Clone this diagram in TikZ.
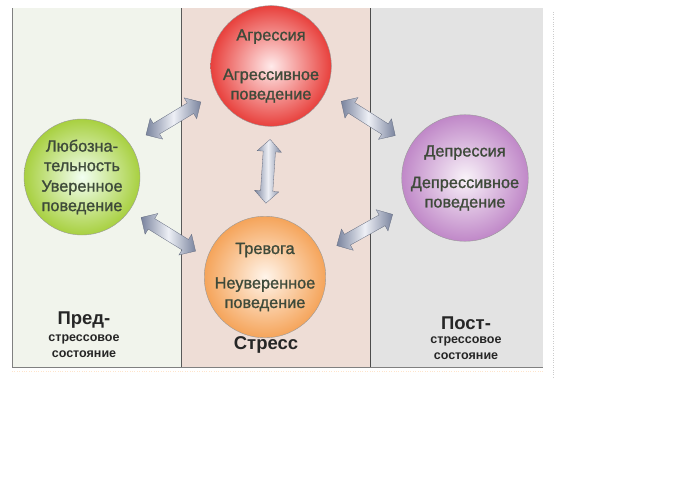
\documentclass[tikz,border=0pt]{standalone}
\usepackage{fontspec}
\setmainfont{Liberation Sans}
\newfontfamily\sharfont[FakeBold=1.3]{Liberation Sans}
\usetikzlibrary{shapes.arrows}
\definecolor{fonlev}{HTML}{F1F4EC}
\definecolor{fonsr}{HTML}{EEDDD6}
\definecolor{fonpr}{HTML}{E3E3E3}
\definecolor{tekst}{HTML}{3E4A3A}
\definecolor{strel}{HTML}{7A849E}
\definecolor{strsv}{HTML}{EEF0F6}

\begin{document}
\begin{tikzpicture}[x=1pt,y=-1pt]
	\tikzset{
		shar/.style={circle,draw=gray!80,line width=.4pt,minimum size=116pt,inner sep=0pt,align=center,text=tekst,font=\sharfont\fontsize{16.3}{19.5}\selectfont},
		dvstr/.style={double arrow,draw=strel!80!black,line width=.3pt,minimum height=64pt,inner sep=6pt,double arrow head extend=6pt,left color=strel,right color=strel,middle color=strsv,sloped},
		podpis/.style={text=black!85,font=\bfseries\fontsize{18.5}{20}\selectfont},
		podpism/.style={text=black!85,align=center,font=\bfseries\fontsize{12.5}{15.5}\selectfont}}
	\useasboundingbox (0,0) rectangle (693,479);
	\fill[fonlev] (12,8) rectangle (181,367);
	\fill[fonsr] (181,8) rectangle (370,367);
	\fill[fonpr] (370,8) rectangle (543,367);
	\draw[gray] (12,8) -- (12,367) -- (543,367);
	\draw[gray!70!black] (181,8) -- (181,367);
	\draw[black!70] (370,8) -- (370,367);
	\draw[gray!40,dotted] (553,12) -- (553,378);
	\draw[orange!20,dotted] (12,371) -- (543,371);

	\node[shar,inner color=red!8,outer color={rgb,255:red,232;green,64;blue,60}] (agr) at (271,66)
		{Агрессия\\[20pt]Агрессивное\\поведение};
	\node[shar,inner color=green!5!white,outer color={rgb,255:red,168;green,208;blue,64}] (lub) at (82,177)
		{Любозна-\\тельность\\[1pt]Уверенное\\поведение};
	\node[shar,minimum size=114pt,inner color=orange!8,outer color={rgb,255:red,245;green,164;blue,90}] (trv) at (265,277)
		{Тревога\\[15pt]Неуверенное\\поведение};
	\node[shar,minimum size=118pt,inner color=violet!5,outer color={rgb,255:red,192;green,136;blue,200}] (dep) at (465,178)
		{Депрессия\\[12pt]Депрессивное\\поведение};

	\path (lub.34) -- (agr.206) node[dvstr,midway] {};
	\path (agr.-90) -- (trv.90) node[dvstr,midway] {};
	\path (lub.-35) -- (trv.162) node[dvstr,midway] {};
	\path (agr.-25) -- (dep.149) node[dvstr,midway] {};
	\path (trv.22) -- (dep.206) node[dvstr,midway] {};

	\node[podpis] (pred) at (84,320) {Пред-};
	\node[podpism] (predst) at (84,346) {стрессовое\\состояние};
	\node[podpis] (stress) at (266,345) {Стресс};
	\node[podpis] (post) at (466,323) {Пост-};
	\node[podpism] (postst) at (466,348) {стрессовое\\состояние};
\end{tikzpicture}
\end{document}
